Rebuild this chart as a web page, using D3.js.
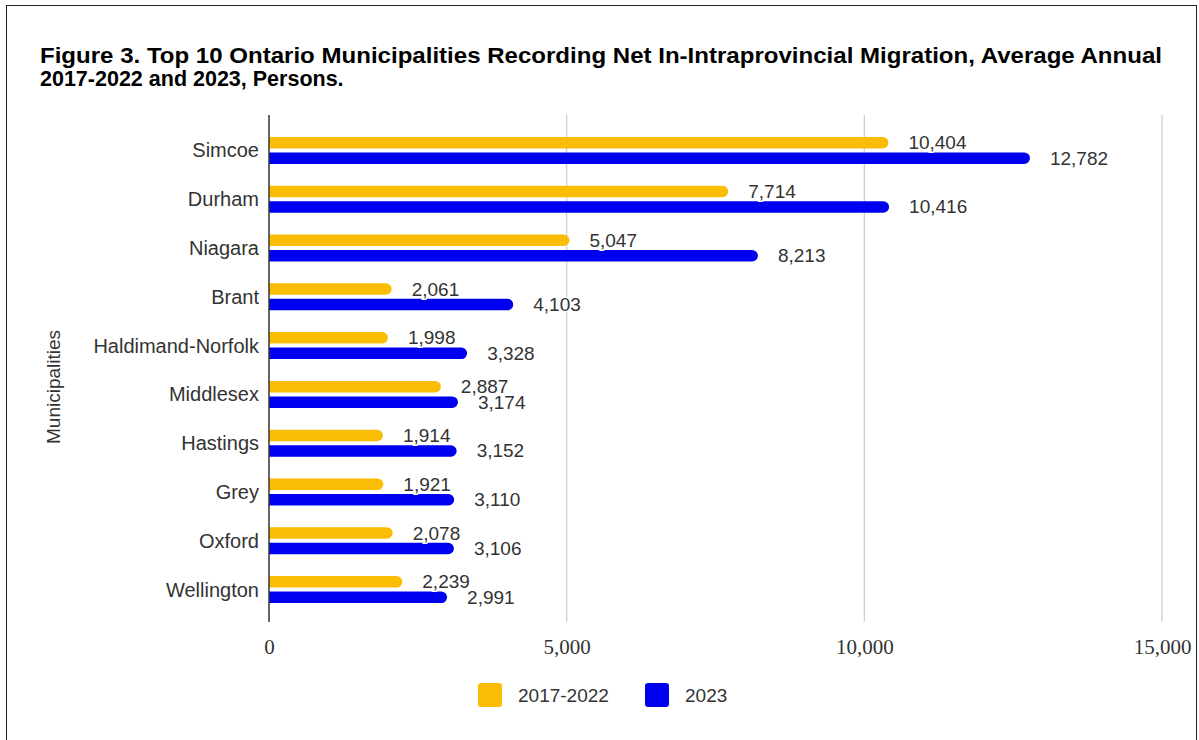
<!DOCTYPE html>
<html>
<head>
<meta charset="utf-8">
<script src="https://cdn.jsdelivr.net/npm/d3@7"></script>
<style>
  html, body { margin: 0; padding: 0; background: #fff; }
  svg { display: block; }
</style>
</head>
<body>
<svg id="chart" width="1199" height="740"></svg>
<script>
const categories = ["Simcoe", "Durham", "Niagara", "Brant", "Haldimand-Norfolk", "Middlesex", "Hastings", "Grey", "Oxford", "Wellington"];
const seriesNames = ["2017-2022", "2023"];
const values2017_2022 = [10404, 7714, 5047, 2061, 1998, 2887, 1914, 1921, 2078, 2239];
const values2023 = [12782, 10416, 8213, 4103, 3328, 3174, 3152, 3110, 3106, 2991];
const xTicks = [0, 5000, 10000, 15000];
const colors = ["#FBBC04", "#0000F0"];
const titleLines = ["Figure 3. Top 10 Ontario Municipalities Recording Net In-Intraprovincial Migration, Average Annual", "2017-2022 and 2023, Persons."];
const yAxisTitle = "Municipalities";

const seriesValues = [values2017_2022, values2023];
const svg = d3.select("#chart");
const sans = "Arial, 'Liberation Sans', sans-serif";
const serif = "'Times New Roman', 'Liberation Serif', serif";
const textColor = "#333";

// frame
svg.append("rect").attr("x", 6.5).attr("y", 5.5).attr("width", 1190).attr("height", 745)
  .attr("fill", "#fff").attr("stroke", "#222").attr("stroke-width", 1);

// title
svg.append("g").selectAll("text").data(titleLines).join("text")
  .attr("x", 40).attr("y", (d, i) => 63 + i * 23)
  .attr("font-family", sans).attr("font-weight", "bold").attr("font-size", 21.5)
  .attr("fill", "#000")
  .attr("textLength", (d, i) => i === 0 ? 1122 : null)
  .attr("lengthAdjust", "spacingAndGlyphs")
  .text(d => d);

const x = d3.scaleLinear().domain([0, 15000]).range([269, 1162]);
const y = d3.scaleBand().domain(categories).range([126, 614]).padding(0);
const ySub = d3.scaleBand().domain(seriesNames).range([-13.5, 13.5]).paddingInner(0.258);

const plotTop = 115, plotBottom = 622;

// gridlines
svg.append("g").selectAll("line").data(xTicks.filter(t => t > 0)).join("line")
  .attr("x1", d => x(d)).attr("x2", d => x(d))
  .attr("y1", plotTop).attr("y2", plotBottom)
  .attr("stroke", "#ccc").attr("stroke-width", 1.2);

// x axis tick labels
const xAxis = d3.axisBottom(x).tickValues(xTicks).tickFormat(d3.format(",")).tickSize(0).tickPadding(0);
const xg = svg.append("g").attr("transform", `translate(0,${plotBottom})`).call(xAxis);
xg.select(".domain").remove();
xg.selectAll("text").attr("font-family", serif).attr("font-size", 21).attr("fill", textColor)
  .attr("dy", null).attr("y", 32);

// bars
function barPath(x0, x1, yc, h) {
  const r = Math.min(h / 2, Math.max(0, x1 - x0));
  const p = d3.path();
  const yt = yc - h / 2, yb = yc + h / 2;
  p.moveTo(x0, yt);
  p.lineTo(x1 - r, yt);
  p.arcTo(x1, yt, x1, yc, r);
  p.arcTo(x1, yb, x1 - r, yb, r);
  p.lineTo(x0, yb);
  p.closePath();
  return p.toString();
}

const bh = ySub.bandwidth();
seriesNames.forEach((s, si) => {
  const data = categories.map((c, i) => ({ c, v: seriesValues[si][i] }));
  const g = svg.append("g");
  g.selectAll("path").data(data).join("path")
    .attr("d", d => barPath(x(0), x(d.v), y(d.c) + y.bandwidth() / 2 + ySub(s) + bh / 2, bh))
    .attr("fill", colors[si]);
});

// value labels
seriesNames.forEach((s, si) => {
  const data = categories.map((c, i) => ({ c, v: seriesValues[si][i] }));
  svg.append("g").selectAll("text").data(data).join("text")
    .attr("x", d => x(d.v) + 20)
    .attr("y", d => y(d.c) + y.bandwidth() / 2 + ySub(s) + bh / 2)
    .attr("dominant-baseline", "central")
    .attr("font-family", sans).attr("font-size", 19).attr("fill", textColor)
    .attr("stroke", "#fff").attr("stroke-width", 3).attr("paint-order", "stroke")
    .text(d => d3.format(",")(d.v));
});

// y axis line
svg.append("line").attr("x1", x(0)).attr("x2", x(0)).attr("y1", plotTop).attr("y2", plotBottom)
  .attr("stroke", "#333").attr("stroke-width", 1.5);

// category labels
const yAxis = d3.axisLeft(y).tickSize(0).tickPadding(0);
const yg = svg.append("g").attr("transform", `translate(259,0)`).call(yAxis);
yg.select(".domain").remove();
yg.selectAll("text").attr("font-family", sans).attr("font-size", 20).attr("fill", textColor)
  .attr("dy", "0.35em");

// y axis title
svg.append("text").attr("transform", "translate(60,387) rotate(-90)")
  .attr("text-anchor", "middle").attr("font-family", sans).attr("font-size", 19)
  .attr("fill", textColor).text(yAxisTitle);

// legend
const legendItems = [
  { name: seriesNames[0], color: colors[0], x: 478 },
  { name: seriesNames[1], color: colors[1], x: 645 }
];
const lg = svg.append("g").selectAll("g").data(legendItems).join("g")
  .attr("transform", d => `translate(${d.x},683)`);
lg.append("rect").attr("width", 24).attr("height", 24).attr("rx", 3).attr("fill", d => d.color);
lg.append("text").attr("x", 40).attr("y", 12).attr("dominant-baseline", "central")
  .attr("font-family", sans).attr("font-size", 19).attr("fill", textColor).text(d => d.name);
</script>
</body>
</html>
